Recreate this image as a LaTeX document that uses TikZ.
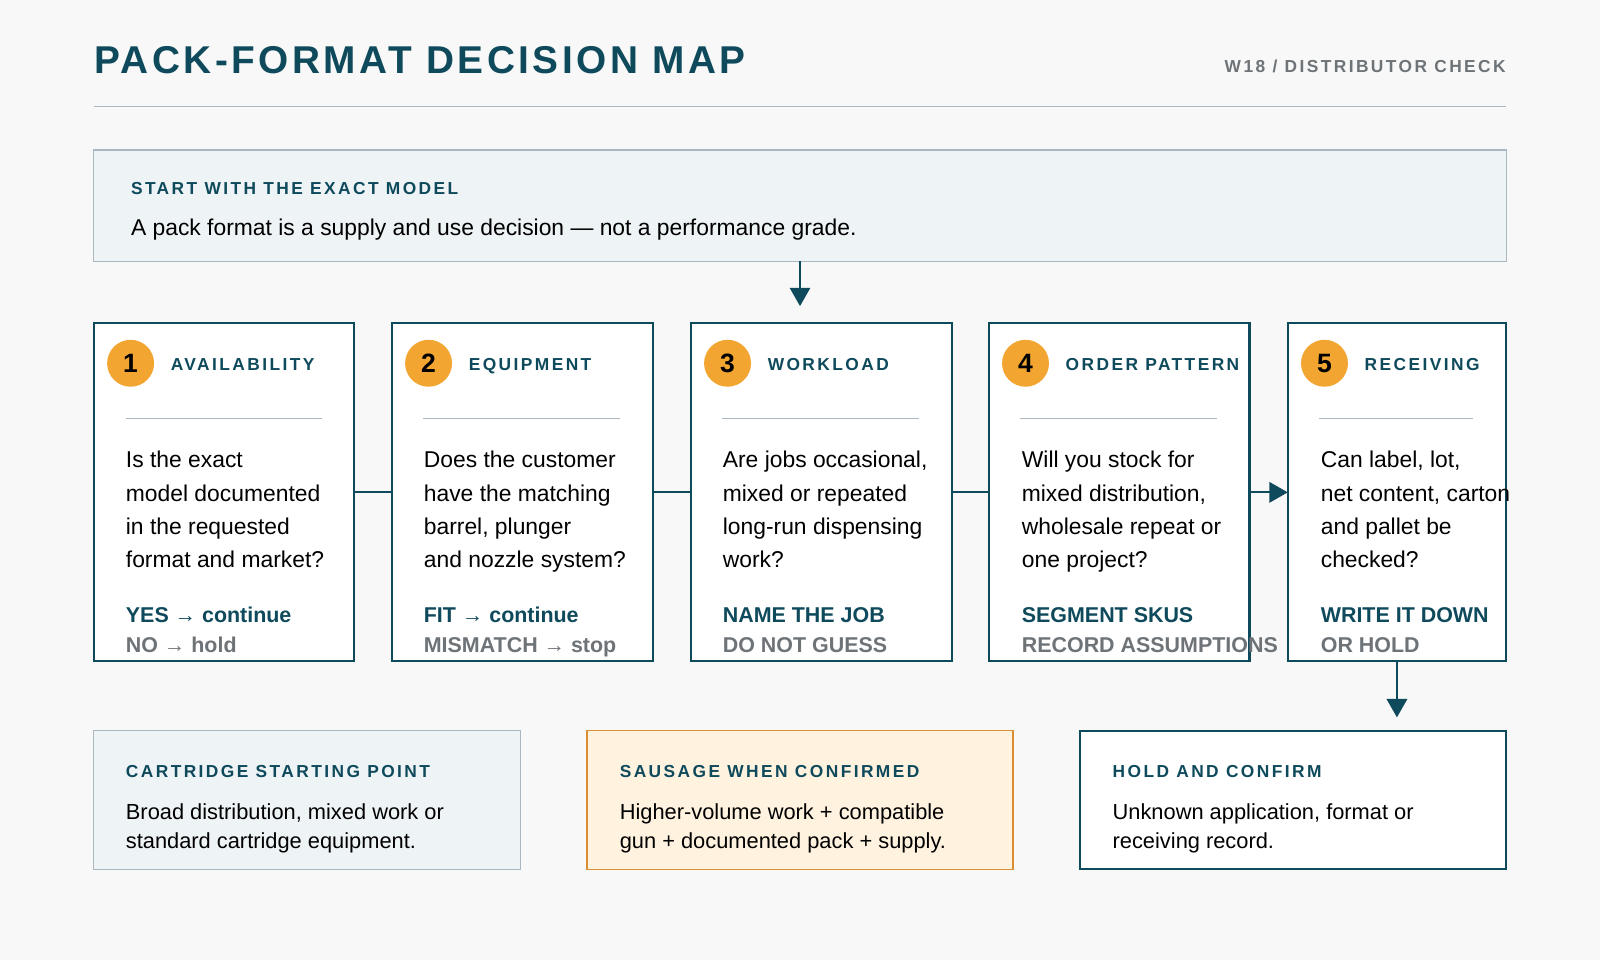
\documentclass[tikz,border=0pt]{standalone}
\usepackage{fontspec}
\setmainfont{Liberation Sans}
\usetikzlibrary{arrows.meta}
\definecolor{teal}{HTML}{0E4A5C}
\definecolor{paper}{HTML}{F7F8F7}
\definecolor{pale}{HTML}{EEF3F6}
\definecolor{rule}{HTML}{A9B7C2}
\definecolor{dot}{HTML}{F2A531}
\definecolor{cream}{HTML}{FFF3E0}
\definecolor{amber}{HTML}{D98E33}
\definecolor{mute}{HTML}{6E7378}
\newcommand{\capsfont}[1]{\fontsize{#1}{#1}\selectfont\bfseries\addfontfeatures{LetterSpace=14}}
\tikzset{
  step box/.style={draw=teal,line width=1pt,fill=white,minimum width=127.5pt,minimum height=165.5pt,outer sep=0pt},
  tag/.style={anchor=base west,inner sep=0pt,text=teal,font=\capsfont{8.5}},
  body/.style={anchor=base west,inner sep=0pt,align=left,font=\fontsize{11.2}{16.25}\selectfont},
  lower/.style={anchor=base west,inner sep=0pt,align=left,font=\fontsize{10.7}{14.25}\selectfont},
  num/.style={circle,fill=dot,minimum size=23pt,inner sep=0pt,font=\fontsize{13}{13}\selectfont\bfseries},
  yes/.style={anchor=base west,inner sep=0pt,text=teal,font=\fontsize{10.5}{10.5}\selectfont\bfseries},
  no/.style={anchor=base west,inner sep=0pt,text=mute,font=\fontsize{10.5}{10.5}\selectfont\bfseries},
  link/.style={draw=teal,line width=1pt}
}
\begin{document}
\begin{tikzpicture}[x=0.5pt,y=-0.5pt]
  \fill[paper] (0,0) rectangle (1568,941);
  \useasboundingbox (0,0) rectangle (1568,941);
  % header
  \node[anchor=base west,inner sep=0pt,text=teal,font=\fontsize{19}{19}\selectfont\bfseries\addfontfeatures{LetterSpace=9}] (title) at (92,72) {PACK-FORMAT DECISION MAP};
  \node[anchor=base east,inner sep=0pt,text=mute,font=\capsfont{8.5}] (week) at (1476,71) {W18 / DISTRIBUTOR CHECK};
  \draw[rule,line width=0.6pt] (92,104) -- (1476,104);
  % start box
  \node[draw=rule,fill=pale,line width=0.6pt,minimum width=692pt,minimum height=54.5pt,outer sep=0pt] (start) at (784,201.5) {};
  \node[tag] (startlab) at (128,191) {START WITH THE EXACT MODEL};
  \node[body] (starttxt) at (128,231) {A pack format is a supply and use decision — not a performance grade.};
  % steps
  \node[step box] (b1) at (219.5,482.5) {};
  \node[step box] (b2) at (512,482.5) {};
  \node[step box] (b3) at (805,482.5) {};
  \node[step box] (b4) at (1097,482.5) {};
  \node[step box,minimum width=107pt] (b5) at (1369,482.5) {};
  \foreach \n/\x/\lab/\w in {1/92/AVAILABILITY/193,2/384/EQUIPMENT/193,3/677/WORKLOAD/193,4/969/ORDER PATTERN/193,5/1262/RECEIVING/151}{
    \node[num] (n\n) at (\x+36,356) {\n};
    \node[tag] (t\n) at (\x+75,363) {\lab};
    \draw[rule,line width=0.6pt] (\x+31,410) -- ++(\w,0);
  }
  \node[body] (q1) at (123,556) {Is the exact\\model documented\\in the requested\\format and market?};
  \node[body] (q2) at (415,556) {Does the customer\\have the matching\\barrel, plunger\\and nozzle system?};
  \node[body] (q3) at (708,556) {Are jobs occasional,\\mixed or repeated\\long-run dispensing\\work?};
  \node[body] (q4) at (1001,556) {Will you stock for\\mixed distribution,\\wholesale repeat or\\one project?};
  \node[body] (q5) at (1294,556) {Can label, lot,\\net content, carton\\and pallet be\\checked?};
  \node[yes] (y1) at (123,610) {YES → continue};
  \node[no] (o1) at (123,639) {NO → hold};
  \node[yes] (y2) at (415,610) {FIT → continue};
  \node[no] (o2) at (415,639) {MISMATCH → stop};
  \node[yes] (y3) at (708,610) {NAME THE JOB};
  \node[no] (o3) at (708,639) {DO NOT GUESS};
  \node[yes] (y4) at (1001,610) {SEGMENT SKUS};
  \node[no] (o4) at (1001,639) {RECORD ASSUMPTIONS};
  \node[yes] (y5) at (1294,610) {WRITE IT DOWN};
  \node[no] (o5) at (1294,639) {OR HOLD};
  % connectors
  \draw[link] (b1.east) -- (b2.west);
  \draw[link] (b2.east) -- (b3.west);
  \draw[link] (b3.east) -- (b4.west);
  \draw[link,-{Triangle[length=9pt,width=10pt]}] (b4.east) -- (b5.west);
  \draw[link,-{Triangle[length=9pt,width=10pt]}] (start.south) -- ++(0,44);
  % outcomes
  \node[draw=rule,fill=pale,line width=0.6pt,minimum width=209pt,minimum height=68pt,outer sep=0pt] (cart) at (301,784) {};
  \node[draw=amber,fill=cream,line width=0.8pt,minimum width=209pt,minimum height=68pt,outer sep=0pt] (saus) at (784,784) {};
  \node[draw=teal,fill=white,line width=1pt,minimum width=209pt,minimum height=68pt,outer sep=0pt] (hold) at (1267,784) {};
  \draw[link,-{Triangle[length=9pt,width=10pt]}] (b5.south) -- ++(0,55);
  \node[tag] (c1) at (123,762) {CARTRIDGE STARTING POINT};
  \node[lower] (c2) at (123,832) {Broad distribution, mixed work or\\standard cartridge equipment.};
  \node[tag] (s1) at (607,762) {SAUSAGE WHEN CONFIRMED};
  \node[lower] (s2) at (607,832) {Higher-volume work + compatible\\gun + documented pack + supply.};
  \node[tag] (h1) at (1090,762) {HOLD AND CONFIRM};
  \node[lower] (h2) at (1090,832) {Unknown application, format or\\receiving record.};
\end{tikzpicture}
\end{document}
